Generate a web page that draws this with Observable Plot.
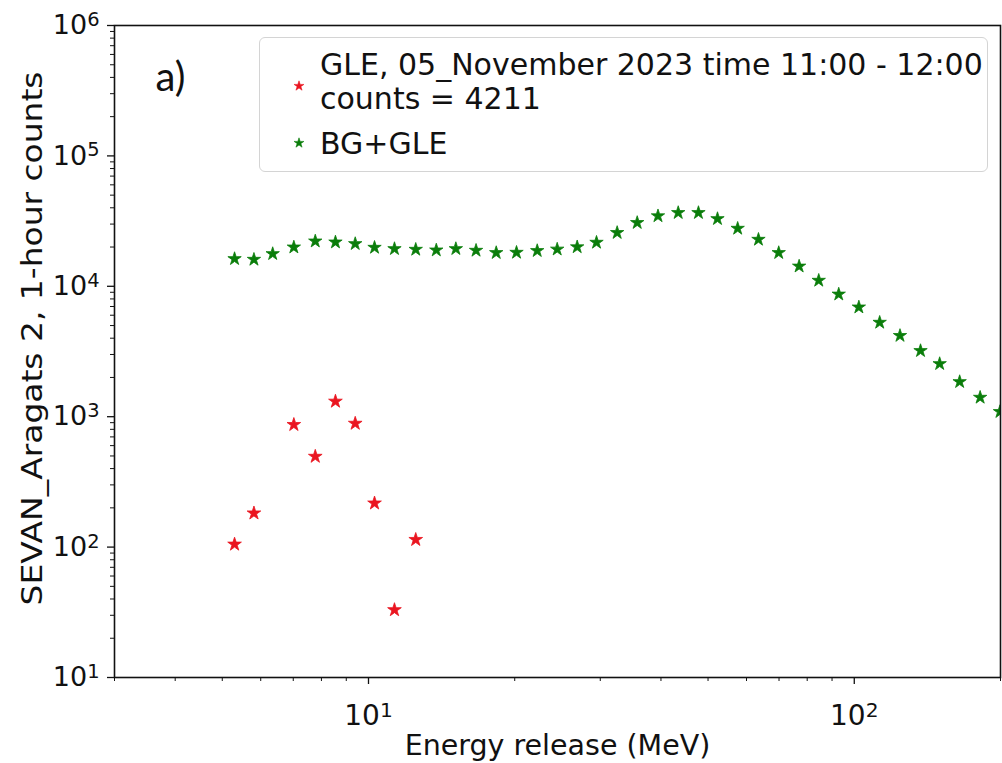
<!DOCTYPE html>
<html>
<head>
<meta charset="utf-8">
<script src="https://cdn.jsdelivr.net/npm/d3@7"></script>
<script src="https://cdn.jsdelivr.net/npm/@observablehq/plot@0.6"></script>
<style>
  html, body { margin: 0; padding: 0; background: #fff; }
  #wrap { position: relative; width: 1002px; height: 763px; font-family: "DejaVu Sans", sans-serif; }
  #legend {
    position: absolute; left: 259px; top: 37px; width: 727px; height: 133px;
    border: 1.5px solid #d4d4d4; border-radius: 6px; background: rgba(255,255,255,0.85);
    box-sizing: content-box;
  }
  #legend .lbl { position: absolute; left: 60px; font-size: 30px; line-height: 1; color: #111; white-space: nowrap; }
  #legend svg { position: absolute; overflow: visible; }
</style>
</head>
<body>
<div id="wrap"></div>
<script>
// SEVAN Aragats 2 energy-release spectra, 1-hour counts (log-log)

// Energy bins (MeV)
const energy = [5.30, 5.81, 6.35, 7.02, 7.77, 8.55, 9.39, 10.29, 11.31, 12.51,
  13.79, 15.13, 16.65, 18.32, 20.17, 22.25, 24.46, 26.89, 29.47, 32.50,
  35.74, 39.44, 43.41, 47.78, 52.29, 57.54, 63.5, 69.9, 77.0, 84.5,
  92.9, 102.2, 112.8, 124.2, 136.9, 149.9, 164.8, 181.6, 199.5];

// Background + GLE counts per bin
const bgGleCounts = [16250, 16050, 17750, 19940, 22170, 21790, 21180, 19830, 19390, 19150,
  18920, 19390, 18820, 18070, 18160, 18720, 19220, 20010, 21680, 25760,
  30730, 34600, 36630, 36630, 32930, 27750, 22850, 18070, 14240, 11080,
  8685, 6915, 5278, 4181, 3202, 2545, 1852, 1404, 1091];

// GLE excess (05 November 2023, 11:00 - 12:00)
const gleEnergy = [5.30, 5.81, 7.02, 7.77, 8.55, 9.39, 10.29, 11.31, 12.51];
const gleCounts = [105, 182, 868, 495, 1310, 887, 217, 33, 114];

// Axis ticks
const xMajor = [10, 100];
const xMinor = [3, 4, 5, 6, 7, 8, 9, 20, 30, 40, 50, 60, 70, 80, 90, 200];
const yMajor = [10, 100, 1000, 10000, 100000, 1000000];
const yMinor = [1, 2, 3, 4, 5].flatMap(e => [2, 3, 4, 5, 6, 7, 8, 9].map(m => m * 10 ** e));

const legendGle = "GLE, 05_November 2023 time 11:00 - 12:00";
const legendBg = "BG+GLE";
const xLabel = "Energy release (MeV)";
const yLabel = "SEVAN_Aragats 2, 1-hour counts";

const RED = "#ea1520";
const GREEN = "#0a7d0a";

// Decade labels as "10^n"; the exponent is set as a raised tspan afterwards
const pow10 = d => "10^" + Math.round(Math.log10(d));

const bg = energy.map((e, i) => ({e, c: bgGleCounts[i]}));
const gle = gleEnergy.map((e, i) => ({e, c: gleCounts[i]}));

const chart = Plot.plot({
  width: 1002,
  height: 763,
  marginLeft: 114,
  marginRight: 2,
  marginTop: 25,
  marginBottom: 86,
  x: {type: "log", domain: [3, 200]},
  y: {type: "log", domain: [10, 1e6]},
  style: {fontFamily: "DejaVu Sans, sans-serif", color: "#111", background: "white", overflow: "visible"},
  marks: [
    Plot.axisX({ticks: xMajor, tickSize: 7, tickPadding: 21, tickFormat: pow10, fontSize: 28, label: null, strokeWidth: 1.3}),
    Plot.axisX({ticks: xMinor, tickSize: 4, tickFormat: () => "", label: null, strokeWidth: 1}),
    Plot.axisY({ticks: yMajor, tickSize: 7, tickPadding: 8, tickFormat: pow10, fontSize: 27, label: null, strokeWidth: 1.3}),
    Plot.axisY({ticks: yMinor, tickSize: 4, tickFormat: () => "", label: null, strokeWidth: 1}),
    Plot.dot(bg, {x: "e", y: "c", symbol: "star", r: 4.2, fill: GREEN, stroke: GREEN, strokeWidth: 0.8, clip: true}),
    Plot.dot(gle, {x: "e", y: "c", symbol: "star", r: 4.3, fill: RED, stroke: RED, strokeWidth: 0.8, clip: true}),
    Plot.frame({stroke: "#111", strokeWidth: 1.6}),
    Plot.text([xLabel], {frameAnchor: "bottom", dy: 77, fontSize: 28.5}),
    Plot.text([yLabel], {frameAnchor: "left", textAnchor: "middle", rotate: -90, dx: -81, dy: -13, fontSize: 28, className: "ylabel"}),
    Plot.text(["a)"], {frameAnchor: "top-left", lineAnchor: "middle", textAnchor: "middle", dx: 56, dy: 53, fontSize: 40, fontFamily: "Lato, sans-serif"})
  ]
});

// Typeset decade labels with a superscript exponent
d3.select(chart).selectAll("text").each(function () {
  const t = d3.select(this);
  const s = t.text();
  const m = /^10\^(\d+)$/.exec(s);
  if (!m) return;
  t.text("10");
  t.append("tspan").attr("dy", "-0.42em").attr("font-size", "0.72em").text(m[1]);
});

// The vertical title runs the full height of the y axis labels
d3.select(chart).selectAll("g.ylabel text")
  .attr("textLength", 534)
  .attr("lengthAdjust", "spacingAndGlyphs");

const wrap = document.getElementById("wrap");
wrap.appendChild(chart);

// Legend box
const legend = document.createElement("div");
legend.id = "legend";
wrap.appendChild(legend);

const starPath = d3.symbol(d3.symbolStar, Math.PI * 3.1 * 3.1)();
function star(color, cx, cy) {
  const s = d3.create("svg").attr("width", 1).attr("height", 1)
    .style("left", cx + "px").style("top", cy + "px");
  s.append("path").attr("d", starPath).attr("fill", color).attr("stroke", color).attr("stroke-width", 0.6);
  legend.appendChild(s.node());
}
function label(text, top) {
  const d = document.createElement("div");
  d.className = "lbl";
  d.style.top = top + "px";
  d.textContent = text;
  legend.appendChild(d);
}
star(RED, 39, 48);
star(GREEN, 39, 105);
label(legendGle, 12);
label("counts = " + d3.sum(gleCounts), 46);
label(legendBg, 91);
</script>
</body>
</html>
